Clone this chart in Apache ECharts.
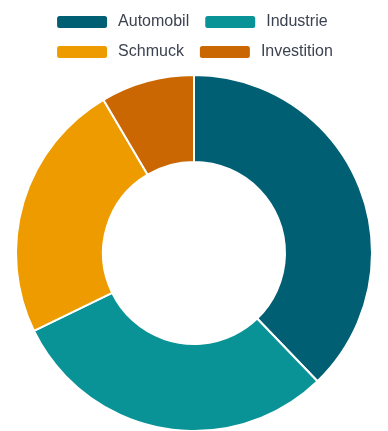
<!DOCTYPE html>
<html><head><meta charset="utf-8">
<script src="https://cdn.jsdelivr.net/npm/echarts@6/dist/echarts.min.js"></script>
<style>html,body{margin:0;padding:0;background:#fff}#c{width:388px;height:431px}</style>
</head><body><div id="c"></div>
<script>
const categories = ['Automobil', 'Industrie', 'Schmuck', 'Investition'];
const values = [37.8, 30, 23.7, 8.5];
const colors = ['#005f73', '#0a9396', '#ee9b00', '#ca6702'];

const chart = echarts.init(document.getElementById('c'), null, {renderer: 'canvas'});
chart.setOption({
  animation: false,
  color: colors,
  legend: {
    top: 14,
    left: 'center',
    width: 300,
    padding: 0,
    itemWidth: 52,
    itemHeight: 14,
    itemGap: 14,
    textStyle: {fontSize: 16, lineHeight: 15, padding: [0, 0, 0, 5], color: '#3c4350', fontFamily: 'Liberation Sans, Arial, sans-serif'},
    data: categories
  },
  series: [{
    type: 'pie',
    center: [194, 253],
    radius: [91, 178],
    startAngle: 90,
    label: {show: false},
    labelLine: {show: false},
    itemStyle: {borderColor: '#fff', borderWidth: 2},
    data: categories.map((c, i) => ({name: c, value: values[i]}))
  }]
});
</script></body></html>
